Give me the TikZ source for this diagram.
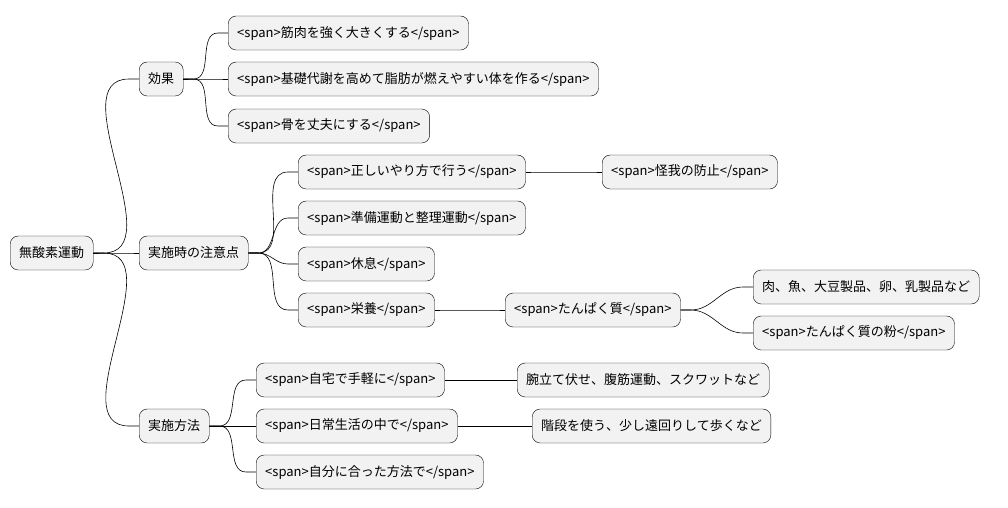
\documentclass[tikz,border=0pt]{standalone}
\usepackage{fontspec}
\newfontfamily\jp{Noto Sans CJK JP}
\begin{document}
\begin{tikzpicture}[x=1pt,y=-1pt]
    \tikzset{topic/.style={draw=black,fill=black!5,rounded corners=8pt,minimum height=34pt,
        inner xsep=9pt,anchor=west,font=\jp\fontsize{13}{15}\selectfont},
        link/.style={draw=black,line width=0.6pt}}
    \useasboundingbox (0,0) rectangle (1008,507);
    \node [topic] (root) at (10,253) {無酸素運動};
    \node [topic] (kouka) at (139,79) {効果};
    \node [topic] (chui) at (139,253) {実施時の注意点};
    \node [topic] (houhou) at (139,426) {実施方法};
    \node [topic] (k1) at (228,33) {<span>筋肉を強く大きくする</span>};
    \node [topic] (k2) at (228,79) {<span>基礎代謝を高めて脂肪が燃えやすい体を作る</span>};
    \node [topic] (k3) at (228,126) {<span>骨を丈夫にする</span>};
    \node [topic] (c1) at (298,172) {<span>正しいやり方で行う</span>};
    \node [topic] (c2) at (298,218) {<span>準備運動と整理運動</span>};
    \node [topic] (c3) at (298,264) {<span>休息</span>};
    \node [topic] (c4) at (298,310) {<span>栄養</span>};
    \node [topic] (kega) at (602,172) {<span>怪我の防止</span>};
    \node [topic] (tanpaku) at (505,310) {<span>たんぱく質</span>};
    \node [topic] (niku) at (753,287) {肉、魚、大豆製品、卵、乳製品など};
    \node [topic] (kona) at (753,333) {<span>たんぱく質の粉</span>};
    \node [topic] (h1) at (256,380) {<span>自宅で手軽に</span>};
    \node [topic] (h2) at (256,426) {<span>日常生活の中で</span>};
    \node [topic] (h3) at (256,472) {<span>自分に合った方法で</span>};
    \node [topic] (ude) at (517,380) {腕立て伏せ、腹筋運動、スクワットなど};
    \node [topic] (kaidan) at (532,426) {階段を使う、少し遠回りして歩くなど};
    % connectors
    \foreach \p/\c in {root/kouka,root/chui,root/houhou,kouka/k1,kouka/k2,kouka/k3,
        chui/c1,chui/c2,chui/c3,chui/c4,c1/kega,c4/tanpaku,tanpaku/niku,tanpaku/kona,
        houhou/h1,houhou/h2,houhou/h3,h1/ude,h2/kaidan}
        \draw [link] (\p.east) -- ++(10,0) to[out=0,in=180] ([xshift=-10pt]\c.west) -- (\c.west);
\end{tikzpicture}
\end{document}
